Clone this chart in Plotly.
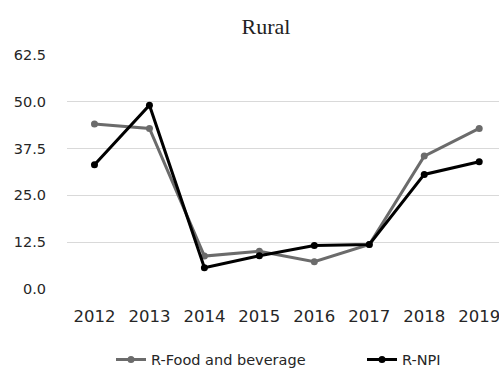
import plotly.graph_objects as go

years = ["2012", "2013", "2014", "2015", "2016", "2017", "2018", "2019"]
food_beverage = [44.1, 42.9, 8.8, 10.1, 7.3, 11.9, 35.5, 42.9]
npi = [33.2, 49.1, 5.7, 8.9, 11.6, 11.9, 30.6, 34.0]
y_ticks = [0.0, 12.5, 25.0, 37.5, 50.0, 62.5]

fig = go.Figure()
fig.add_trace(go.Scatter(
    x=years, y=food_beverage, name="R-Food and beverage",
    mode="lines+markers",
    line=dict(color="#6b6b6b", width=3),
    marker=dict(color="#6b6b6b", size=7),
    legend="legend",
))
fig.add_trace(go.Scatter(
    x=years, y=npi, name="R-NPI",
    mode="lines+markers",
    line=dict(color="#000000", width=3),
    marker=dict(color="#000000", size=7),
    legend="legend2",
))

legend_font = dict(family="DejaVu Sans", size=14.5, color="#262626")

fig.update_layout(
    width=499, height=369,
    margin=dict(l=67, r=0, t=55, b=80),
    paper_bgcolor="white", plot_bgcolor="white",
    title=dict(
        text="Rural", font=dict(family="Liberation Serif", size=22, color="#222"),
        x=266 / 499, xref="container", xanchor="center",
        y=1 - 26 / 369, yref="container", yanchor="middle",
    ),
    xaxis=dict(
        type="category", range=[-0.5, 7.36],
        showgrid=False, zeroline=False, showline=False,
        ticks="outside", ticklen=12, tickcolor="rgba(0,0,0,0)",
        tickfont=dict(family="DejaVu Sans", size=16.5, color="#262626"),
    ),
    yaxis=dict(
        range=[0, 62.5], tickvals=y_ticks, tickformat=".1f",
        showgrid=True, gridcolor="#d9d9d9", gridwidth=1.3,
        zeroline=False, showline=False,
        ticks="outside", ticklen=17, tickcolor="rgba(0,0,0,0)",
        tickfont=dict(family="DejaVu Sans", size=14.5, color="#262626"),
    ),
    legend=dict(
        orientation="h",
        xref="container", x=111 / 499, xanchor="left",
        yref="container", y=1 - 359.5 / 369, yanchor="middle",
        font=legend_font,
    ),
    legend2=dict(
        orientation="h",
        xref="container", x=362 / 499, xanchor="left",
        yref="container", y=1 - 359.5 / 369, yanchor="middle",
        font=legend_font,
    ),
    showlegend=True,
)

fig.write_html("out.html")
